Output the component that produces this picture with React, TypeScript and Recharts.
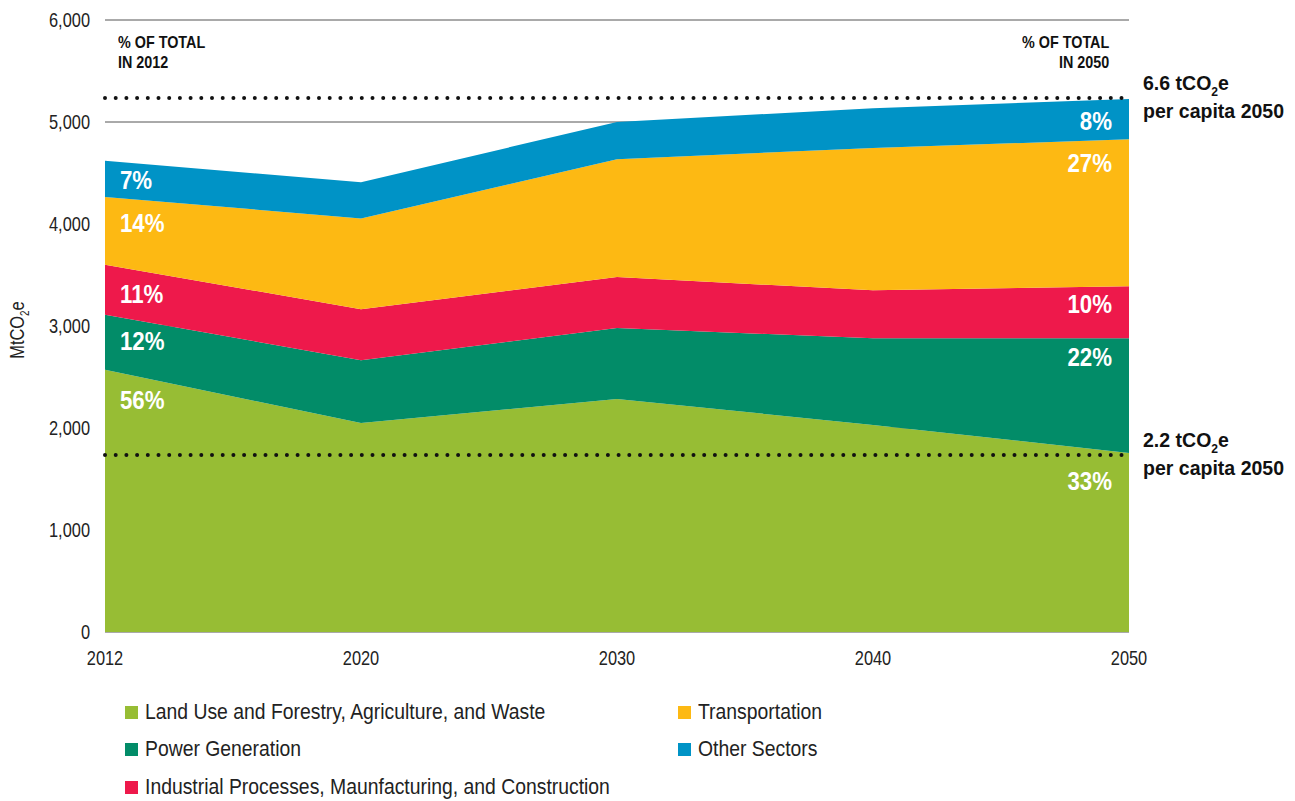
import React from "react";
import {
  Area,
  AreaChart,
  CartesianGrid,
  LabelList,
  ReferenceLine,
  XAxis,
  YAxis,
} from "recharts";

// no condensed face is installed, so Liberation Sans gets squeezed horizontally
const FONT = '"Liberation Sans", Arial, sans-serif';
const NARROW = 0.82;
const NARROW_BOLD = 0.89;

const years = ["2012", "2020", "2030", "2040", "2050"];
const landUse = [2570, 2050, 2285, 2030, 1755];
const power = [540, 615, 695, 850, 1125];
const industrial = [490, 500, 500, 470, 510];
const transport = [665, 890, 1155, 1395, 1440];
const other = [355, 355, 365, 390, 395];

const pct2012 = ["56%", "12%", "11%", "14%", "7%"];
const pct2050 = ["33%", "22%", "10%", "27%", "8%"];

const yTicks = [0, 1000, 2000, 3000, 4000, 5000, 6000];

const target2050High = 5235;
const target2050Low = 1735;

const series = [
  { key: "landUse", name: "Land Use and Forestry, Agriculture, and Waste", color: "#97bd34" },
  { key: "power", name: "Power Generation", color: "#028c68" },
  { key: "industrial", name: "Industrial Processes, Maunfacturing, and Construction", color: "#ee194b" },
  { key: "transport", name: "Transportation", color: "#fdb913" },
  { key: "other", name: "Other Sectors", color: "#0093c6" },
];

// how far below the band's top edge each % label sits (px)
const dropLeft = [30, 26, 29, 26, 19];
const dropRight = [28, 19, 18, 24, 22];

const data = years.map((year, i) => ({
  year,
  landUse: landUse[i],
  power: power[i],
  industrial: industrial[i],
  transport: transport[i],
  other: other[i],
}));

function SText({ x, y, sx, children, ...rest }: any) {
  return (
    <text transform={`translate(${x},${y}) scale(${sx},1)`} x={0} y={0} fontFamily={FONT} {...rest}>
      {children}
    </text>
  );
}

const YTick = (props: any) => (
  <SText x={props.x} y={props.y} sx={NARROW} dy="0.35em" textAnchor="end" fontSize={20} fill="#222">
    {Number(props.payload.value).toLocaleString("en-US")}
  </SText>
);

const XTick = (props: any) => (
  <SText x={props.x} y={props.y} sx={NARROW} dy="0.71em" textAnchor="middle" fontSize={20} fill="#222">
    {props.payload.value}
  </SText>
);

function pctLabel(idx: number) {
  return (props: any) => {
    const { x, y, index } = props;
    if (index === 0) {
      return (
        <SText x={x + 15} y={y + dropLeft[idx]} sx={NARROW_BOLD} dy="0.35em" fill="#fff" fontSize={25} fontWeight="bold">
          {pct2012[idx]}
        </SText>
      );
    }
    if (index === years.length - 1) {
      return (
        <SText x={x - 17} y={y + dropRight[idx]} sx={NARROW_BOLD} dy="0.35em" textAnchor="end" fill="#fff" fontSize={25} fontWeight="bold">
          {pct2050[idx]}
        </SText>
      );
    }
    return null;
  };
}

function perCapitaLabel(amount: string) {
  return (props: any) => {
    const { x, y, width } = props.viewBox;
    return (
      <SText x={x + width + 14} y={y} sx={0.93} fill="#111" fontSize={21} fontWeight="bold">
        <tspan x={0} dy="-8">
          {amount} tCO
        </tspan>
        <tspan fontSize={13} dy="6">2</tspan>
        <tspan dy="-6">e</tspan>
        <tspan x={0} dy="28">per capita 2050</tspan>
      </SText>
    );
  };
}

const narrowBox = (sx: number, origin: string): React.CSSProperties => ({
  display: "inline-block",
  transform: `scaleX(${sx})`,
  transformOrigin: origin,
  whiteSpace: "nowrap",
});

export default function App() {
  return (
    <div style={{ position: "absolute", left: 0, top: 0, width: 1295, height: 801, fontFamily: FONT, background: "#fff" }}>
      <AreaChart
        width={1295}
        height={680}
        data={data}
        margin={{ top: 20, right: 166, bottom: 18, left: 0 }}
      >
        <CartesianGrid horizontal vertical={false} stroke="#555" strokeWidth={1} />
        <XAxis
          dataKey="year"
          axisLine={false}
          tickLine={false}
          interval={0}
          height={30}
          tickMargin={13}
          tick={<XTick />}
        />
        <YAxis
          domain={[0, 6000]}
          ticks={yTicks}
          width={105}
          axisLine={false}
          tickLine={false}
          tickMargin={9}
          tick={<YTick />}
        />
        {series.map((s, i) => (
          <Area
            key={s.key}
            type="linear"
            dataKey={s.key}
            name={s.name}
            stackId="1"
            stroke={s.color}
            strokeWidth={0}
            fill={s.color}
            fillOpacity={1}
            isAnimationActive={false}
          >
            <LabelList content={pctLabel(i)} />
          </Area>
        ))}
        <ReferenceLine
          y={target2050High}
          stroke="#111"
          strokeWidth={4}
          strokeDasharray="0 10.7"
          strokeLinecap="round"
          label={perCapitaLabel("6.6")}
        />
        <ReferenceLine
          y={target2050Low}
          stroke="#111"
          strokeWidth={4}
          strokeDasharray="0 10.7"
          strokeLinecap="round"
          label={perCapitaLabel("2.2")}
        />
      </AreaChart>

      <div style={{ position: "absolute", left: 118, top: 32, fontSize: 16.5, fontWeight: "bold", lineHeight: "20px", color: "#111" }}>
        <span style={narrowBox(0.87, "left")}>
          % OF TOTAL
          <br />
          IN 2012
        </span>
      </div>
      <div style={{ position: "absolute", right: 1295 - 1109, top: 32, fontSize: 16.5, fontWeight: "bold", lineHeight: "20px", color: "#111", textAlign: "right" }}>
        <span style={narrowBox(0.87, "right")}>
          % OF TOTAL
          <br />
          IN 2050
        </span>
      </div>

      <div
        style={{
          position: "absolute",
          left: 19,
          top: 330,
          transform: `translate(-50%, -50%) rotate(-90deg) scaleX(${NARROW})`,
          fontSize: 20,
          color: "#222",
          whiteSpace: "nowrap",
        }}
      >
        MtCO<sub style={{ fontSize: 12 }}>2</sub>e
      </div>

      {[
        { s: series[0], x: 125, y: 712 },
        { s: series[1], x: 125, y: 749 },
        { s: series[2], x: 125, y: 787 },
        { s: series[3], x: 678, y: 712 },
        { s: series[4], x: 678, y: 749 },
      ].map(({ s, x, y }) => (
        <div
          key={s.key}
          style={{ position: "absolute", left: x, top: y - 14, height: 28, display: "flex", alignItems: "center", whiteSpace: "nowrap" }}
        >
          <span style={{ width: 13, height: 13, background: s.color, display: "inline-block", marginRight: 7, flex: "none" }} />
          <span style={{ fontSize: 22, color: "#222", ...narrowBox(0.88, "left") }}>{s.name}</span>
        </div>
      ))}
    </div>
  );
}
